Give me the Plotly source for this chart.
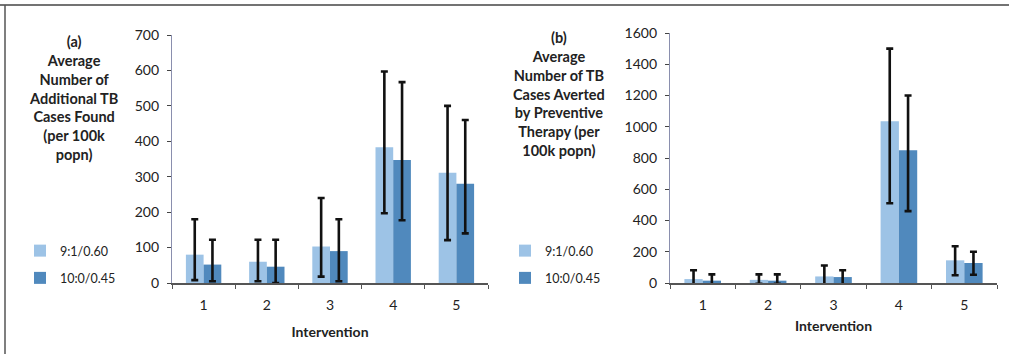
import plotly.graph_objects as go

# Interventions on the x axis
interventions = ["1", "2", "3", "4", "5"]
series_names = ["9:1/0.60", "10:0/0.45"]

# (a) Average number of additional TB cases found (per 100k popn)
found_91 = [80, 60, 103, 383, 311]
found_91_low = [8, 5, 18, 197, 121]
found_91_high = [180, 122, 240, 597, 500]
found_100 = [52, 46, 90, 347, 280]
found_100_low = [5, 0, 5, 177, 140]
found_100_high = [122, 122, 180, 567, 460]

# (b) Average number of TB cases averted by preventive therapy (per 100k popn)
averted_91 = [25, 20, 42, 1035, 145]
averted_91_low = [-8, -5, -8, 510, 50]
averted_91_high = [82, 55, 112, 1500, 235]
averted_100 = [15, 15, 38, 850, 128]
averted_100_low = [-8, -5, -8, 460, 53]
averted_100_high = [55, 55, 82, 1200, 200]

colors = ["#9dc3e6", "#5089bd"]
FONT = "Lato"

fig = go.Figure()


def add_series(vals, lows, highs, name, color, xa, ya, legend, group):
    fig.add_trace(go.Bar(
        x=interventions, y=vals, name=name,
        marker=dict(color=color, line=dict(width=0)),
        error_y=dict(
            type="data", symmetric=False,
            array=[h - v for h, v in zip(highs, vals)],
            arrayminus=[v - lo for v, lo in zip(vals, lows)],
            color="#111111", thickness=2.6, width=3.5,
        ),
        xaxis=xa, yaxis=ya, legend=legend, legendgroup=group,
    ))


add_series(found_91, found_91_low, found_91_high, series_names[0], colors[0], "x", "y", "legend", "a1")
add_series(found_100, found_100_low, found_100_high, series_names[1], colors[1], "x", "y", "legend", "a2")
add_series(averted_91, averted_91_low, averted_91_high, series_names[0], colors[0], "x2", "y2", "legend2", "b1")
add_series(averted_100, averted_100_low, averted_100_high, series_names[1], colors[1], "x2", "y2", "legend2", "b2")

W, H = 1009, 362

xaxis_common = dict(
    type="category", showgrid=False, showline=True, linecolor="#555555", linewidth=1.5,
    ticks="outside", tickson="boundaries", ticklen=4, tickcolor="#555555",
    ticklabelstandoff=8,
    tickfont=dict(family=FONT, size=14, color="#222222"),
    title_font=dict(family=FONT, size=14, color="#222222"),
    zeroline=False,
)
yaxis_common = dict(
    showgrid=False, showline=True, linecolor="#8a8fae", linewidth=1.2,
    ticks="outside", ticklen=4, tickcolor="#444444",
    ticklabelstandoff=5,
    tickfont=dict(family=FONT, size=14, color="#222222"),
    zeroline=False,
)

legend_common = dict(
    xref="paper", yref="paper", xanchor="left", yanchor="top",
    bgcolor="rgba(0,0,0,0)", font=dict(family=FONT, size=12.5, color="#222222"),
    traceorder="grouped", tracegroupgap=8, itemwidth=30,
)

fig.update_layout(
    width=W, height=H,
    margin=dict(l=0, r=0, t=0, b=0, autoexpand=False),
    paper_bgcolor="white", plot_bgcolor="white",
    barmode="group", bargap=0.44, bargroupgap=0,
    showlegend=True,
    xaxis=dict(domain=[172 / W, 488 / W], anchor="y",
               title=dict(text="<b>Intervention</b>", standoff=16), **xaxis_common),
    yaxis=dict(domain=[1 - 283 / H, 1 - 35 / H], anchor="x", range=[0, 700],
               tickvals=[0, 100, 200, 300, 400, 500, 600, 700], **yaxis_common),
    xaxis2=dict(domain=[670 / W, 997 / W], anchor="y2",
                title=dict(text="<b>Intervention</b>", standoff=10), **xaxis_common),
    yaxis2=dict(domain=[1 - 283 / H, 1 - 33 / H], anchor="x2", range=[0, 1600],
                tickvals=[0, 200, 400, 600, 800, 1000, 1200, 1400, 1600], **yaxis_common),
    legend=dict(x=20 / W, y=1 - 236 / H, **legend_common),
    legend2=dict(x=505 / W, y=1 - 236 / H, **legend_common),
)

label_font = dict(family=FONT, size=14.5, color="#222222")
fig.add_annotation(
    text="<b>(a)<br>Average<br>Number of<br>Additional TB<br>Cases Found<br>(per 100k<br>popn)</b>",
    xref="paper", yref="paper", x=73 / W, y=1 - 31 / H,
    xanchor="center", yanchor="top", showarrow=False, align="center", font=label_font,
)
fig.add_annotation(
    text="<b>(b)<br>Average<br>Number of TB<br>Cases Averted<br>by Preventive<br>Therapy (per<br>100k popn)</b>",
    xref="paper", yref="paper", x=559 / W, y=1 - 27 / H,
    xanchor="center", yanchor="top", showarrow=False, align="center", font=label_font,
)

# Thin frame lines along the top and left edge
fig.add_shape(type="line", xref="paper", yref="paper", x0=0, x1=1, y0=1 - 5 / H, y1=1 - 5 / H,
              line=dict(color="#444444", width=1.5))
fig.add_shape(type="line", xref="paper", yref="paper", x0=5 / W, x1=5 / W, y0=8 / H, y1=1 - 5 / H,
              line=dict(color="#555555", width=1.5))

fig.write_html("out.html")
